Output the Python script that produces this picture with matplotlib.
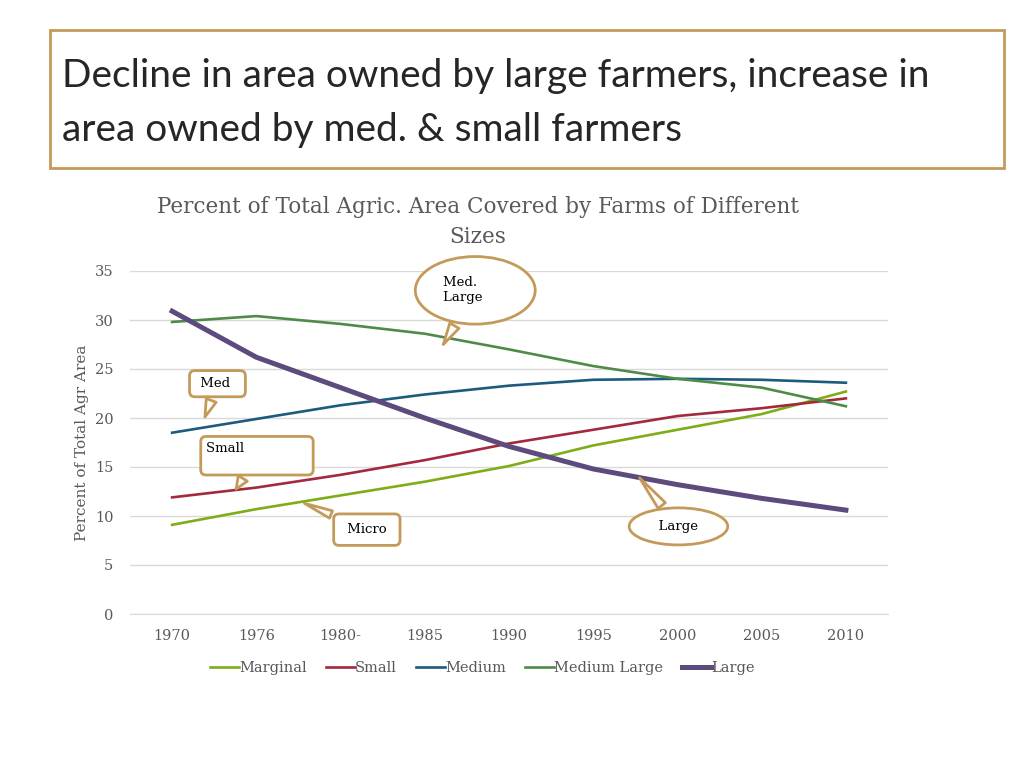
import matplotlib.pyplot as plt
from matplotlib.patches import Rectangle

years = ["1970", "1976", "1980-", "1985", "1990", "1995", "2000", "2005", "2010"]
marginal = [9.1, 10.7, 12.1, 13.5, 15.1, 17.2, 18.8, 20.4, 22.7]
small = [11.9, 12.9, 14.2, 15.7, 17.4, 18.8, 20.2, 21.0, 22.0]
medium = [18.5, 19.9, 21.3, 22.4, 23.3, 23.9, 24.0, 23.9, 23.6]
medium_large = [29.8, 30.4, 29.6, 28.6, 27.0, 25.3, 24.0, 23.1, 21.2]
large = [30.9, 26.2, 23.1, 20.0, 17.1, 14.8, 13.2, 11.8, 10.6]

serif = "DejaVu Serif"
tan = "#c49a5a"
grey = "#595959"

fig = plt.figure(figsize=(10.24, 7.68), dpi=100)
fig.patch.set_facecolor("white")

# title box
fig.patches.append(Rectangle((50 / 1024, 1 - 168 / 768), 954 / 1024, 138 / 768,
                             transform=fig.transFigure, fill=False, ec=tan, lw=2))
fig.text(62 / 1024, 1 - 76 / 768, "Decline in area owned by large farmers, increase in",
         family="Lato", fontsize=28, va="center", color="#262626")
fig.text(62 / 1024, 1 - 130 / 768, "area owned by med. & small farmers",
         family="Lato", fontsize=28, va="center", color="#262626")

ax = fig.add_axes([130 / 1024, 1 - 614 / 768, 758 / 1024, 343 / 768])
x = range(len(years))
ax.plot(x, marginal, color="#7dae18", lw=1.9, label="Marginal")
ax.plot(x, small, color="#a3293c", lw=1.9, label="Small")
ax.plot(x, medium, color="#1d5b7e", lw=1.9, label="Medium")
ax.plot(x, medium_large, color="#4f8b48", lw=1.9, label="Medium Large")
ax.plot(x, large, color="#5e4b7e", lw=3.6, label="Large")

ax.set_xlim(-0.5, len(years) - 0.5)
ax.set_ylim(0, 35)
ax.set_yticks(range(0, 36, 5))
ax.set_xticks(list(x))
ax.set_xticklabels(years)
ax.grid(axis="y", color="#d9d9d9", lw=1)
ax.set_axisbelow(True)
for s in ["top", "right", "left"]:
    ax.spines[s].set_visible(False)
ax.spines["bottom"].set_color("#d9d9d9")
ax.tick_params(length=0, labelsize=10.5, labelcolor=grey, pad=11)
ax.tick_params(axis="y", pad=12)
for lab in ax.get_xticklabels() + ax.get_yticklabels():
    lab.set_family(serif)

ax.set_ylabel("Percent of Total Agr Area", family=serif, fontsize=11, color=grey, labelpad=4)
fig.text(478 / 1024, 1 - 222 / 768,
         "Percent of Total Agric. Area Covered by Farms of Different\nSizes",
         family=serif, fontsize=15.5, color=grey, ha="center", va="center", linespacing=1.45)

ax.legend(loc="upper center", bbox_to_anchor=(0.465, -0.1), ncol=5, frameon=False,
          prop={"family": serif, "size": 10.5}, handlelength=2.0, handletextpad=0.0,
          columnspacing=1.3, labelcolor=grey)

# callouts
def callout(text, xy, off, shape, pad, tw=0.8):
    ax.annotate(text, xy=xy, xytext=off, textcoords="offset points",
                family=serif, fontsize=9.5, ha="center", va="center", zorder=5,
                multialignment="left",
                bbox=dict(boxstyle=f"{shape},pad={pad}", fc="white", ec=tan, lw=2),
                arrowprops=dict(arrowstyle=f"wedge,tail_width={tw},shrink_factor=0.5",
                                fc="white", ec=tan, lw=2, shrinkB=0))

callout("Med.       \nLarge      ", (3.22, 27.5), (23, 39), "ellipse", 0.75, 0.8)
callout(" Med  ", (0.39, 20.1), (9, 24), "round,rounding_size=0.4", 0.5)
callout("Small               \n ", (0.76, 12.75), (15, 24), "round,rounding_size=0.4", 0.4)
callout(" Micro ", (1.57, 11.3), (45, -19), "round,rounding_size=0.4", 0.7, 0.6)
callout("  Large  ", (5.55, 13.9), (28, -35), "ellipse", 0.5, 0.7)

fig.savefig("out.png", dpi=100)
